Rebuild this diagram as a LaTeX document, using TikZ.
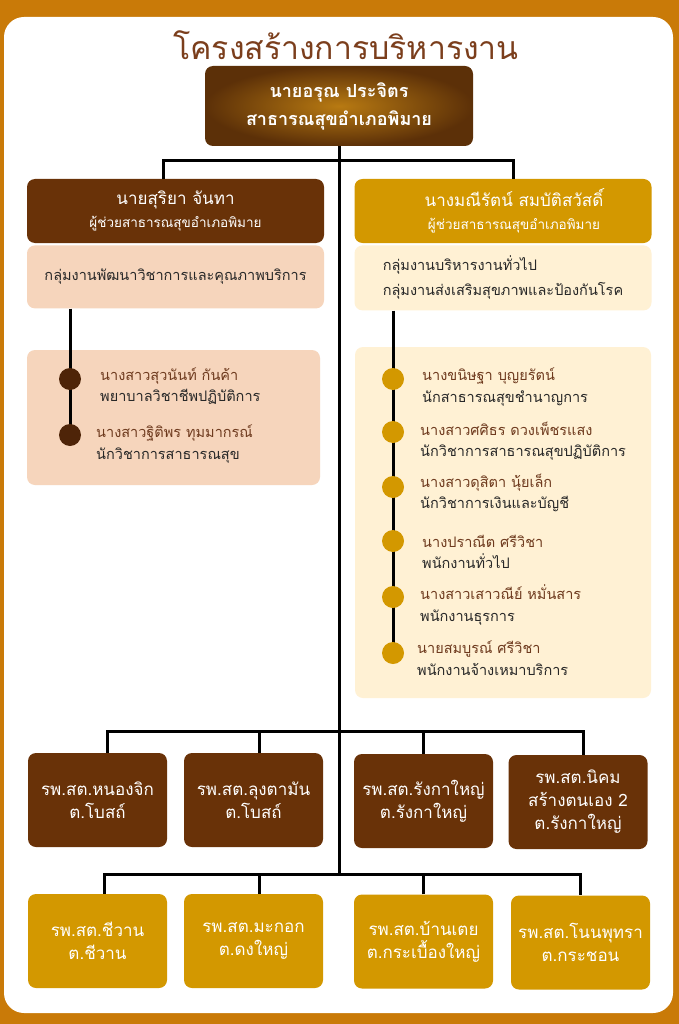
\documentclass[tikz,border=0pt]{standalone}
\usepackage{fontspec}
\setmainfont[Script=Thai]{Loma}
\usepackage{tikz}
\usetikzlibrary{positioning}

\definecolor{framecol}{RGB}{201,122,8}
\definecolor{darkbox}{RGB}{105,50,8}
\definecolor{goldbox}{RGB}{211,152,0}
\definecolor{peachbox}{RGB}{246,213,188}
\definecolor{creambox}{RGB}{255,241,212}
\definecolor{titlebrown}{RGB}{123,62,28}
\definecolor{namebrown}{RGB}{110,58,30}
\definecolor{textdark}{RGB}{40,40,40}
\definecolor{dotdark}{RGB}{78,36,8}
\definecolor{bossout}{RGB}{92,48,8}
\definecolor{bossin}{RGB}{184,122,18}

\pgfdeclarelayer{front}
\pgfsetlayers{main,front}

\begin{document}
\begin{tikzpicture}[x=1pt, y=-1pt, node distance=2pt, auto]
    % Define styles
    \tikzstyle{tree} = [line width=3pt, black]
    \tikzstyle{titletext} = [font=\fontsize{32}{36}\selectfont, text=titlebrown]
    \tikzstyle{bossbox} = [rectangle, rounded corners=8pt, minimum width=268pt, minimum height=80pt, inner color=bossin, outer color=bossout, text=white, align=center, font=\bfseries\fontsize{18}{28}\selectfont]
    \tikzstyle{headbox} = [rectangle, rounded corners=8pt, minimum width=297pt, minimum height=64pt, text=white, align=center, font=\fontsize{13.5}{23}\selectfont]
    \tikzstyle{groupbox} = [rectangle, rounded corners=8pt, minimum width=297pt, text=textdark, font=\fontsize{14.5}{25}\selectfont]
    \tikzstyle{staffbox} = [rectangle, rounded corners=8pt]
    \tikzstyle{person} = [anchor=west, inner sep=0pt, align=left, text=textdark, font=\fontsize{14.5}{21.5}\selectfont]
    \tikzstyle{dot_dark} = [circle, minimum size=22pt, inner sep=0pt, fill=dotdark]
    \tikzstyle{dot_gold} = [circle, minimum size=22pt, inner sep=0pt, fill=goldbox]
    \tikzstyle{unit} = [rectangle, rounded corners=8pt, minimum width=139pt, minimum height=94pt, text=white, align=center, font=\fontsize{17}{23}\selectfont]

    % BACKGROUND
    \fill[framecol] (0,0) rectangle (679,1024);
    \fill[white, rounded corners=20pt] (4,17) rectangle (673,1013);
    \useasboundingbox (0,0) rectangle (679,1024);

    % TOP
    \node (title) [titletext] at (346,45) {โครงสร้างการบริหารงาน};
    \node (boss) [bossbox] at (339,106) {นายอรุณ ประจิตร\\สาธารณสุขอำเภอพิมาย};

    % LEFT BRANCH
    \node (lhead) [headbox, fill=darkbox] at (175.5,211) {{\fontsize{17}{23}\selectfont นายสุริยา จันทา}\\ผู้ช่วยสาธารณสุขอำเภอพิมาย};
    \node (lgroup) [groupbox, fill=peachbox, minimum height=63pt, below=2pt of lhead] {กลุ่มงานพัฒนาวิชาการและคุณภาพบริการ};
    \node (lstaff) [staffbox, fill=peachbox, minimum width=293pt, minimum height=135pt] at (173.5,417.5) {};
    \begin{pgfonlayer}{front}
    \node (ldot1) [dot_dark] at (70,379) {};
    \node (ldot2) [dot_dark] at (70,435) {};
    \end{pgfonlayer}
    \node (lp1) [person] at (100,386) {\textcolor{namebrown}{นางสาวสุวนันท์ กันค้า}\\พยาบาลวิชาชีพปฏิบัติการ};
    \node (lp2) [person] at (96,444) {\textcolor{namebrown}{นางสาวฐิติพร ทุมมากรณ์}\\นักวิชาการสาธารณสุข};

    % RIGHT BRANCH
    \node (rhead) [headbox, fill=goldbox] at (503,211) {{\fontsize{17}{23}\selectfont\hspace*{22pt}นางมณีรัตน์ สมบัติสวัสดิ์}\\\hspace*{22pt}ผู้ช่วยสาธารณสุขอำเภอพิมาย};
    \node (rgroup) [groupbox, fill=creambox, minimum height=65pt, align=left, below=2pt of rhead] {กลุ่มงานบริหารงานทั่วไป\\กลุ่มงานส่งเสริมสุขภาพและป้องกันโรค};
    \node (rstaff) [staffbox, fill=creambox, minimum width=296pt, minimum height=351pt] at (503,522.5) {};
    \begin{pgfonlayer}{front}
    \node (rdot1) [dot_gold] at (393,379) {};
    \node (rdot2) [dot_gold] at (393,432) {};
    \node (rdot3) [dot_gold] at (393,487) {};
    \node (rdot4) [dot_gold] at (393,541) {};
    \node (rdot5) [dot_gold] at (393,597) {};
    \node (rdot6) [dot_gold] at (393,653) {};
    \end{pgfonlayer}
    \node (rp1) [person] at (422,387) {\textcolor{namebrown}{นางขนิษฐา บุญยรัตน์}\\นักสาธารณสุขชำนาญการ};
    \node (rp2) [person] at (420,441) {\textcolor{namebrown}{นางสาวศศิธร ดวงเพ็ชรแสง}\\นักวิชาการสาธารณสุขปฏิบัติการ};
    \node (rp3) [person] at (420,493) {\textcolor{namebrown}{นางสาวดุสิตา นุ้ยเล็ก}\\นักวิชาการเงินและบัญชี};
    \node (rp4) [person] at (422,552) {\textcolor{namebrown}{นางปราณีต ศรีวิชา}\\พนักงานทั่วไป};
    \node (rp5) [person] at (420,605) {\textcolor{namebrown}{นางสาวเสาวณีย์ หมั่นสาร}\\พนักงานธุรการ};
    \node (rp6) [person] at (417,658) {\textcolor{namebrown}{นายสมบูรณ์ ศรีวิชา}\\พนักงานจ้างเหมาบริการ};

    % HEALTH UNITS
    \node (a1) [unit, fill=darkbox] at (97.5,800) {รพ.สต.หนองจิก\\ต.โบสถ์};
    \node (a2) [unit, fill=darkbox] at (253.5,800) {รพ.สต.ลุงตามัน\\ต.โบสถ์};
    \node (a3) [unit, fill=darkbox] at (423.5,801) {รพ.สต.รังกาใหญ่\\ต.รังกาใหญ่};
    \node (a4) [unit, fill=darkbox] at (578,802) {รพ.สต.นิคม\\สร้างตนเอง 2\\ต.รังกาใหญ่};

    \node (b1) [unit, fill=goldbox] at (97.5,941) {รพ.สต.ชีวาน\\ต.ชีวาน};
    \node (b2) [unit, fill=goldbox] at (253.5,941) {รพ.สต.มะกอก\\ต.ดงใหญ่};
    \node (b3) [unit, fill=goldbox] at (423.5,941.5) {รพ.สต.บ้านเตย\\ต.กระเบื้องใหญ่};
    \node (b4) [unit, fill=goldbox] at (580.5,942.5) {รพ.สต.โนนพุทรา\\ต.กระชอน};

    % CONNECTIONS
    \draw[tree] (boss.south) -- ([yshift=19pt]boss.south |- b1.north);
    \draw[tree] (boss.south) -- ++(0,14) -| ([xshift=-12.5pt]lhead.north);
    \draw[tree] (boss.south) -- ++(0,14) -| ([xshift=10pt]rhead.north);

    \draw[tree] (ldot1 |- lgroup.south) -- (ldot2.center);
    \draw[tree] (rdot1 |- rgroup.south) -- (rdot6.center);

    \draw[tree] ([xshift=9.5pt]a1.north) -- ++(0,-21) -| ([xshift=5pt]a4.north);
    \draw[tree] ([xshift=5.5pt]a2.north) -- ++(0,-21);
    \draw[tree] (a3.north) -- ++(0,-21);

    \draw[tree] ([xshift=6.5pt]b1.north) -- ++(0,-19) -| (b4.north);
    \draw[tree] ([xshift=5.5pt]b2.north) -- ++(0,-19);
    \draw[tree] (b3.north) -- ++(0,-19);

\end{tikzpicture}
\end{document}
